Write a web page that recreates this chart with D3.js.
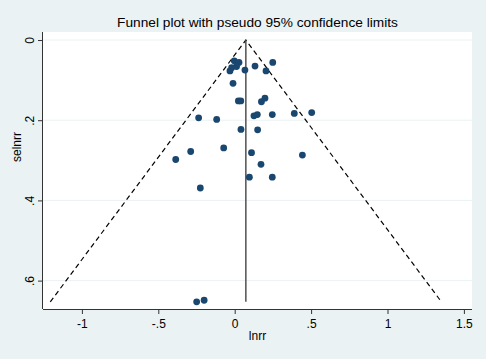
<!DOCTYPE html>
<html>
<head>
<meta charset="utf-8">
<script src="https://cdn.jsdelivr.net/npm/d3@7"></script>
<style>
  html, body { margin: 0; padding: 0; background: #eaf2f3; }
  svg { display: block; }
  text { font-family: "Liberation Sans", Arial, sans-serif; fill: #000; }
</style>
</head>
<body>
<svg id="chart" width="486" height="359"></svg>
<script>
// Study effects (lnrr) and standard errors (selnrr)
const lnrr = [-0.003, 0.028, -0.020, -0.031, 0.012, 0.067, 0.133, 0.205, 0.249, -0.011,
              0.024, 0.040, 0.175, 0.198, -0.236, -0.118, 0.126, 0.148, 0.246, 0.390,
              0.504, 0.041, 0.150, -0.288, -0.072, -0.386, 0.110, 0.443, 0.172, -0.225,
              0.096, 0.246, -0.249, -0.200];
const selnrr = [0.052, 0.056, 0.069, 0.077, 0.066, 0.075, 0.065, 0.077, 0.056, 0.108,
                0.152, 0.152, 0.154, 0.145, 0.194, 0.198, 0.189, 0.186, 0.186, 0.183,
                0.181, 0.223, 0.224, 0.278, 0.269, 0.298, 0.281, 0.287, 0.310, 0.369,
                0.342, 0.342, 0.653, 0.649];
const pooledEstimate = 0.073;
const xTicks = [-1, -0.5, 0, 0.5, 1, 1.5];
const xTickLabels = ["-1", "-.5", "0", ".5", "1", "1.5"];
const yTicks = [0, 0.2, 0.4, 0.6];
const yTickLabels = ["0", ".2", ".4", ".6"];
const title = "Funnel plot with pseudo 95% confidence limits";
const xTitle = "lnrr";
const yTitle = "selnrr";

const svg = d3.select("#chart");
const W = 486, H = 359;
const plot = {left: 43, right: 472, top: 32, bottom: 309};

svg.append("rect").attr("width", W).attr("height", H).attr("fill", "#eaf2f3");
svg.append("rect")
  .attr("x", plot.left).attr("y", plot.top)
  .attr("width", plot.right - plot.left).attr("height", plot.bottom - plot.top)
  .attr("fill", "#fff");

const x = d3.scaleLinear().domain([-1.2546, 1.553]).range([plot.left, plot.right]);
const y = d3.scaleLinear().domain([-0.02, 0.6708]).range([plot.top, plot.bottom]);

// gridlines
svg.append("g").selectAll("line").data(yTicks).join("line")
  .attr("x1", plot.left).attr("x2", plot.right)
  .attr("y1", d => y(d)).attr("y2", d => y(d))
  .attr("stroke", "#eaf2f3").attr("stroke-width", 1);

// funnel
const maxSe = d3.max(selnrr);
const funnel = d3.line().x(d => x(d[0])).y(d => y(d[1]));
svg.append("path")
  .attr("d", funnel([[pooledEstimate - 1.96 * maxSe, maxSe], [pooledEstimate, 0], [pooledEstimate + 1.96 * maxSe, maxSe]]))
  .attr("fill", "none").attr("stroke", "#000").attr("stroke-width", 1.2)
  .attr("stroke-dasharray", "5,3.5");
svg.append("line")
  .attr("x1", x(pooledEstimate)).attr("x2", x(pooledEstimate))
  .attr("y1", y(0)).attr("y2", y(maxSe))
  .attr("stroke", "#444").attr("stroke-width", 1.4);

// points
svg.append("g").selectAll("circle").data(lnrr.map((v, i) => [v, selnrr[i]])).join("circle")
  .attr("cx", d => x(d[0])).attr("cy", d => y(d[1])).attr("r", 3.4)
  .attr("fill", "#1a476f");

// axes
const xAxis = d3.axisBottom(x).tickValues(xTicks).tickFormat((d, i) => xTickLabels[i]).tickSize(5).tickSizeOuter(0);
const gx = svg.append("g").attr("transform", `translate(0,${plot.bottom})`).call(xAxis);
gx.select(".domain").attr("d", `M${plot.left},0.5H${plot.right}`).attr("stroke", "#333");
gx.selectAll(".tick line").attr("stroke", "#333");
gx.selectAll(".tick text").attr("font-size", 12).attr("dy", null).attr("y", 18.5)
  .attr("font-family", "Liberation Sans, Arial, sans-serif");

const yAxis = d3.axisLeft(y).tickValues(yTicks).tickFormat((d, i) => yTickLabels[i]).tickSize(5).tickSizeOuter(0);
const gy = svg.append("g").attr("transform", `translate(${plot.left},0)`).call(yAxis);
gy.select(".domain").attr("d", `M-0.5,${plot.top}V${plot.bottom}`).attr("stroke", "#333");
gy.selectAll(".tick line").attr("stroke", "#333");
gy.selectAll(".tick text")
  .attr("font-size", 12).attr("font-family", "Liberation Sans, Arial, sans-serif")
  .attr("x", null).attr("dy", null).attr("text-anchor", "middle")
  .attr("transform", "translate(-9.5,0) rotate(-90)");

// titles
svg.append("text").attr("x", 257.5).attr("y", 26.5).attr("text-anchor", "middle")
  .attr("font-size", 13.7).text(title);
svg.append("text").attr("x", 257.5).attr("y", 340).attr("text-anchor", "middle")
  .attr("font-size", 12).text(xTitle);
svg.append("text").attr("transform", "translate(21,147) rotate(-90)").attr("text-anchor", "middle")
  .attr("font-size", 12).text(yTitle);
</script>
</body>
</html>
